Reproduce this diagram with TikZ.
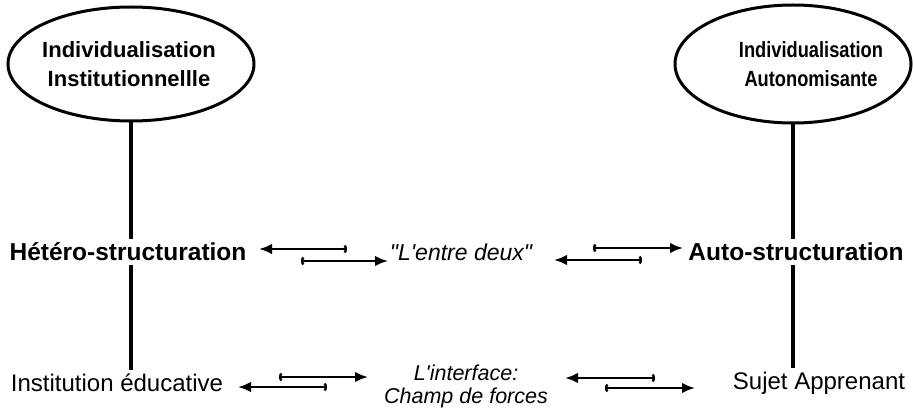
\documentclass[tikz,border=0pt]{standalone}
\usepackage{fontspec}
\setmainfont{Liberation Sans}[Ligatures=TeXOff]
\usetikzlibrary{arrows.meta,shapes.geometric}

\tikzset{
  pole/.style={ellipse, draw, line width=3pt, inner sep=0pt},
  poletext/.style={align=center, font=\fontsize{22}{29}\selectfont\bfseries},
  boldlabel/.style={font=\fontsize{24.5}{29}\selectfont\bfseries, inner sep=4pt},
  plainlabel/.style={font=\fontsize{24}{29}\selectfont, inner sep=4pt},
  midlabel/.style={font=\fontsize{23}{24}\selectfont\itshape, align=center, inner sep=4pt},
  stem/.style={line width=3.2pt},
  flow/.style={line width=2.3pt,
    {Arc Barb[length=2.5pt,width=9pt]}-{Latex[length=13pt,width=10.5pt]}}
}

\begin{document}
\begin{tikzpicture}[x=1pt,y=-1pt]
\useasboundingbox (0,0) rectangle (914,409);

% the two poles of individualisation
\node[pole, minimum width=246pt, minimum height=114pt] (inst) at (131,64) {};
\node[poletext] (instt) at (129,64) {Individualisation\\Institutionnellle};
\node[pole, minimum width=236pt, minimum height=118pt] (auto) at (793,64) {};
\node[poletext] (autot) at (811,64)
  {\scalebox{0.83}[1]{Individualisation}\\\scalebox{0.83}[1]{Autonomisante}};

% structuration row
\node[boldlabel] (hetero) at (128,252) {Hétéro-structuration};
\node[boldlabel] (autost) at (796,252) {Auto-structuration};
\node[midlabel] (entre) at (461,252) {"L'entre deux"};

% bottom row
\node[plainlabel] (ecole) at (117,383) {Institution éducative};
\node[plainlabel] (sujet) at (819,383) {Sujet Apprenant};
\node[midlabel, font=\fontsize{21.5}{23}\selectfont\itshape] (champ) at (466,386)
  {L'interface:\\Champ de forces};

% vertical stems
\draw[stem] (inst.south) -- (inst.south |- hetero.north);
\draw[stem] (inst.south |- hetero.south) -- (inst.south |- ecole.north);
\draw[stem] (auto.south) -- (auto.south |- autost.north);
\draw[stem] (auto.south |- autost.south) -- (auto.south |- sujet.north);

% exchange arrows, upper row
\coordinate (p1a) at (347,249); \coordinate (p1b) at (259,249);
\coordinate (p2a) at (301,261); \coordinate (p2b) at (388,261);
\coordinate (p3a) at (593,248); \coordinate (p3b) at (683,248);
\coordinate (p4a) at (642,260); \coordinate (p4b) at (554,260);
\draw[flow] (p1a) -- (p1b);
\draw[flow] (p2a) -- (p2b);
\draw[flow] (p3a) -- (p3b);
\draw[flow] (p4a) -- (p4b);

% exchange arrows, lower row
\coordinate (q1a) at (279,377); \coordinate (q1b) at (368,377);
\coordinate (q2a) at (327,387); \coordinate (q2b) at (238,387);
\coordinate (q3a) at (655,378); \coordinate (q3b) at (565,378);
\coordinate (q4a) at (605,388); \coordinate (q4b) at (695,388);
\draw[flow] (q1a) -- (q1b);
\draw[flow] (q2a) -- (q2b);
\draw[flow] (q3a) -- (q3b);
\draw[flow] (q4a) -- (q4b);
\end{tikzpicture}
\end{document}
